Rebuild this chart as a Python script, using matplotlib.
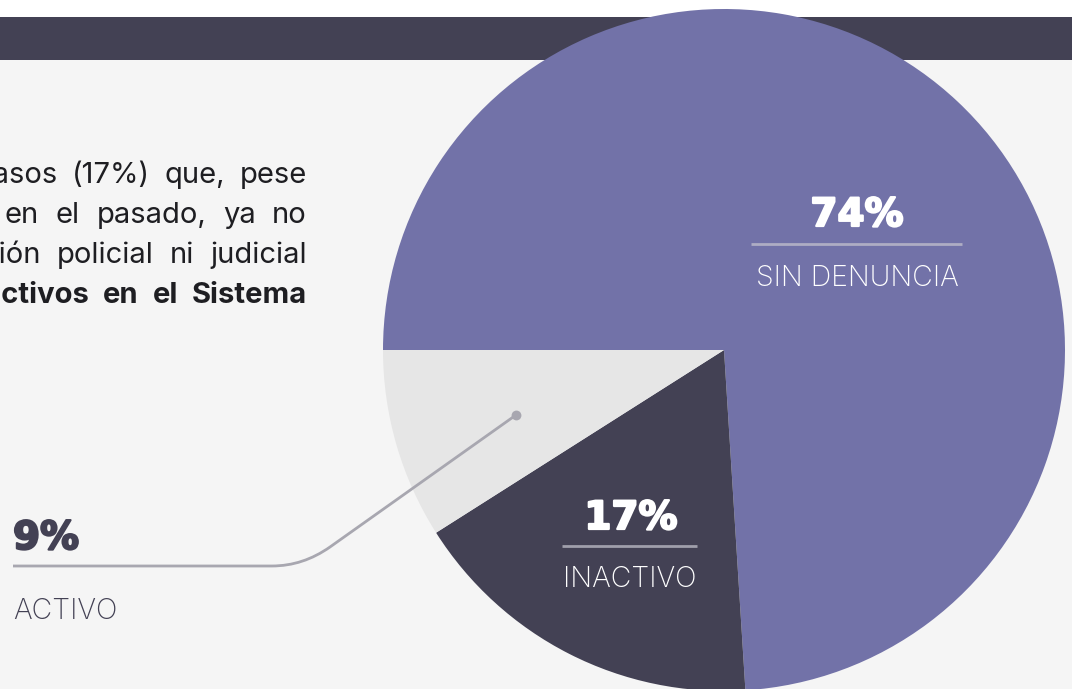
import matplotlib
matplotlib.use("Agg")
import matplotlib.pyplot as plt
import matplotlib.patheffects as pe
from matplotlib.patches import Rectangle, PathPatch
from matplotlib.path import Path

# ---- data ----
categories = ["SIN DENUNCIA", "INACTIVO", "ACTIVO"]
shares = [74, 17, 9]
pct_labels = ["74%", "17%", "9%"]
colors = ["#7272a8", "#434154", "#e6e6e6"]

# paragraph lines (cut at the left edge, justified to x=307):
# words, weight, index of an anchor word, left x of that anchor word
paragraph_lines = [
    (["casos", "(17%)", "que,", "pese"], "normal", 1, 72),
    (["en", "el", "pasado,", "ya", "no"], "normal", 0, 5),
    (["acción", "policial", "ni", "judicial"], "normal", 1, 57),
    (["inactivos", "en", "el", "Sistema"], "bold", 1, 103),
]

W, H = 1072, 689
fig = plt.figure(figsize=(W / 100, H / 100), dpi=100)
fig.patch.set_facecolor("#f5f5f5")
ax = fig.add_axes([0, 0, 1, 1])
ax.set_facecolor("#f5f5f5")

# top white strip and dark band
ax.add_patch(Rectangle((0, 0), W, 17, facecolor="white", edgecolor="none", zorder=0))
ax.add_patch(Rectangle((0, 17), W, 43, facecolor="#434154", edgecolor="none", zorder=0))

# pie (y axis inverted -> counterclock in data = clockwise on screen)
ax.pie(shares, colors=colors, startangle=180, counterclock=True,
       center=(724, 350), radius=341, frame=True,
       wedgeprops=dict(linewidth=0, zorder=2))
ax.set_xlim(0, W)
ax.set_ylim(H, 0)
ax.set_aspect("equal")
ax.axis("off")

def big(x, y, s, color, ha):
    ax.text(x, y, s, color=color, ha=ha, va="baseline", zorder=5,
            family="DejaVu Sans", fontweight="bold", fontsize=28,
            path_effects=[pe.withStroke(linewidth=1.6, foreground=color)])

def small(x, y, s, color, ha):
    ax.text(x, y, s, color=color, ha=ha, va="baseline", zorder=5,
            family="Inter", fontweight="light", fontsize=20.5)

# 74% label
big(857, 226, pct_labels[0], "white", "center")
ax.plot([751, 962], [244, 244], color="#aeadc4", lw=2, zorder=5, solid_capstyle="butt")
small(857, 286, categories[0], "white", "center")

# 17% label
big(631, 529, pct_labels[1], "white", "center")
ax.plot([562, 697], [546, 546], color="#a09fab", lw=2, zorder=5, solid_capstyle="butt")
small(630, 587, categories[1], "white", "center")

# 9% label with connector
big(13, 549, pct_labels[2], "#434154", "left")
small(13, 619, categories[2], "#434154", "left")
verts = [(13, 566), (272, 566), (303, 566), (330, 547), (516, 415)]
codes = [Path.MOVETO, Path.LINETO, Path.CURVE3, Path.CURVE3, Path.LINETO]
ax.add_patch(PathPatch(Path(verts, codes), facecolor="none", edgecolor="#a8a7b0", lw=2, zorder=5))
ax.scatter([516], [415], s=50, color="#a8a7b0", zorder=6, linewidths=0)

# justified paragraph, right edge at x=307
fig.canvas.draw()
renderer = fig.canvas.get_renderer()
right = 307
y0 = 183
for i, (words, weight, k, xk) in enumerate(paragraph_lines):
    y = y0 + i * 40
    texts = [ax.text(0, y, w, ha="right", va="baseline", family="Inter",
                     fontweight=weight, fontsize=21, color="#1e1e22", zorder=5)
             for w in words]
    widths = [t.get_window_extent(renderer=renderer).width for t in texts]
    n = len(words)
    gap = (right - xk - sum(widths[k:])) / (n - 1 - k)
    x = right
    for t, wd in zip(reversed(texts), reversed(widths)):
        t.set_x(x)
        x -= wd + gap

fig.savefig("out.png", dpi=100, facecolor=fig.get_facecolor())
